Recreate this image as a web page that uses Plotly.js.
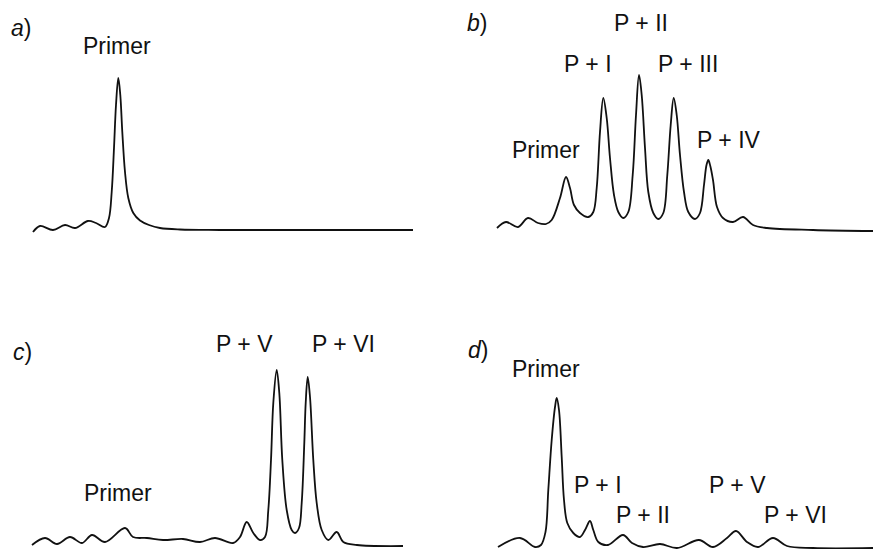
<!DOCTYPE html>
<html>
<head>
<meta charset="utf-8">
<script src="https://cdn.plot.ly/plotly-3.0.1.min.js"></script>
<style>html,body{margin:0;padding:0;background:#fff;}#chart{width:875px;height:549px;}</style>
</head>
<body>
<div id="chart"></div>
<script>
// Panel a) : primer only
const timeA = [0.3,1.0,2.3,3.5,4.5,5.8,6.6,7.5,7.9,8.17,8.4,8.6,8.83,9.03,9.23,9.5,9.83,10.33,11.0,11.9,13.0,15.0,19.0,38.3];
const signalA = [-0.1,0.5,0.1,0.6,0.3,1.0,0.8,0.4,1.3,3.9,8.3,12.6,15.3,13.6,9.9,5.9,3.3,1.8,1.05,0.6,0.3,0.15,0.1,0.1];

// Panel b) : primer + I..IV
const timeB = [0.1,1.0,2.2,3.2,4.2,5.0,5.57,6.4,7.0,7.4,7.8,8.4,9.23,9.73,10.07,10.4,10.73,11.07,11.4,11.8,12.23,12.73,13.23,13.67,14.0,14.3,14.57,14.9,15.23,15.73,16.23,16.73,17.13,17.47,17.77,18.07,18.4,18.8,19.23,19.9,20.4,20.8,21.05,21.23,21.43,21.7,22.1,22.7,23.7,24.7,25.7,27.1,31.7,37.7];
const signalB = [0.2,0.8,0.3,1.2,0.7,0.6,1.0,3.2,5.3,4.2,2.5,1.7,1.3,1.8,4.2,9.8,13.2,11.2,7.2,3.5,1.8,1.2,1.8,5.5,11.5,15.5,13.5,8.2,3.8,1.7,1.1,1.7,5.5,10.5,13.2,11.5,7.5,3.8,1.8,1.1,1.7,4.5,6.5,7.0,6.4,5.0,2.3,1.2,0.8,1.3,0.5,0.2,0.0,-0.1];

// Panel c) : P + V, P + VI
const timeC = [0.2,1.5,2.7,4.0,5.2,6.2,7.5,9.5,10.3,11.7,13.3,15.3,17.0,18.5,20.3,21.0,21.67,22.33,23.0,23.5,23.83,24.1,24.33,24.67,24.93,25.23,25.67,26.17,26.5,26.9,27.17,27.43,27.57,27.77,28.0,28.33,28.67,29.17,29.83,30.67,31.33,32.7,37.3];
const signalC = [-0.1,0.6,0.0,0.7,0.1,0.9,0.2,1.6,0.7,0.6,0.4,0.5,0.2,0.6,0.1,0.7,2.2,1.1,0.4,0.7,3.4,8.4,14.1,17.4,15.1,8.4,3.4,1.4,1.1,1.6,4.1,10.1,14.1,16.7,14.7,8.4,4.1,1.4,0.4,1.2,0.2,-0.1,-0.2];

// Panel d) : primer dominant, small product peaks
const timeD = [0.2,2.4,3.9,4.5,4.95,5.23,5.57,5.9,6.07,6.3,6.57,6.8,7.13,7.73,8.4,8.9,9.4,9.73,10.23,11.2,12.7,13.6,14.7,16.4,18.1,20.3,21.7,23.1,24.0,25.1,26.2,27.7,29.1,31.7,37.7];
const signalD = [0.0,0.9,0.0,0.2,1.5,5.7,10.7,14.0,14.9,13.7,9.0,4.7,2.4,1.4,1.0,1.7,2.6,1.7,0.5,0.2,1.2,0.4,0.0,0.3,-0.1,0.7,0.0,0.9,1.6,0.5,0.0,0.9,0.1,-0.1,-0.1];

const panelLetters = ["a", "b", "c", "d"];
const labelsA = ["Primer"];
const labelsB = ["Primer", "P + I", "P + II", "P + III", "P + IV"];
const labelsC = ["Primer", "P + V", "P + VI"];
const labelsD = ["Primer", "P + I", "P + II", "P + V", "P + VI"];

const W = 875, H = 549;
const line = {color: "#111", width: 1.8, shape: "spline", smoothing: 1.0};
const traces = [
  {x: timeA, y: signalA, xaxis: "x", yaxis: "y", mode: "lines", line: line, hoverinfo: "skip"},
  {x: timeB, y: signalB, xaxis: "x2", yaxis: "y2", mode: "lines", line: line, hoverinfo: "skip"},
  {x: timeC, y: signalC, xaxis: "x3", yaxis: "y3", mode: "lines", line: line, hoverinfo: "skip"},
  {x: timeD, y: signalD, xaxis: "x4", yaxis: "y4", mode: "lines", line: line, hoverinfo: "skip"}
];

function ax(domain, range) {
  return {domain: domain, range: range, visible: false, fixedrange: true, showgrid: false, zeroline: false};
}
function px(x) { return x / W; }
function py(y) { return 1 - y / H; }

const font = {family: "Liberation Sans, Arial, sans-serif", size: 23, color: "#111"};
function lab(text, cx, cy) {
  return {text: text, x: px(cx), y: py(cy), xref: "paper", yref: "paper",
          xanchor: "center", yanchor: "middle", showarrow: false, font: font};
}

const annotations = [
  lab("<i>" + panelLetters[0] + "</i>)", 21, 28),
  lab("<i>" + panelLetters[1] + "</i>)", 477, 23),
  lab("<i>" + panelLetters[2] + "</i>)", 22, 352),
  lab("<i>" + panelLetters[3] + "</i>)", 478, 350),
  lab(labelsA[0], 117, 46),
  lab(labelsB[0], 546, 150),
  lab(labelsB[1], 588, 64),
  lab(labelsB[2], 641, 23),
  lab(labelsB[3], 688, 64),
  lab(labelsB[4], 729, 140),
  lab(labelsC[0], 118, 493),
  lab(labelsC[1], 244, 344),
  lab(labelsC[2], 343, 344),
  lab(labelsD[0], 546, 369),
  lab(labelsD[1], 598, 485),
  lab(labelsD[2], 643, 515),
  lab(labelsD[3], 737, 485),
  lab(labelsD[4], 795, 515)
];

const layout = {
  width: W, height: H,
  margin: {l: 0, r: 0, t: 0, b: 0},
  paper_bgcolor: "#fff", plot_bgcolor: "rgba(0,0,0,0)",
  showlegend: false,
  xaxis: ax([px(30), px(415)], [0, 38.5]),
  yaxis: ax([py(241), py(61)], [-1, 17]),
  xaxis2: ax([px(496), px(875)], [0, 37.9]),
  yaxis2: ax([py(240), py(60)], [-1, 17]),
  xaxis3: ax([px(30), px(415)], [0, 38.5]),
  yaxis3: ax([0, py(364)], [-0.5, 18]),
  xaxis4: ax([px(496), px(875)], [0, 37.9]),
  yaxis4: ax([0, py(377)], [-0.2, 17]),
  annotations: annotations
};

Plotly.newPlot("chart", traces, layout, {staticPlot: true, displayModeBar: false});
</script>
</body>
</html>
